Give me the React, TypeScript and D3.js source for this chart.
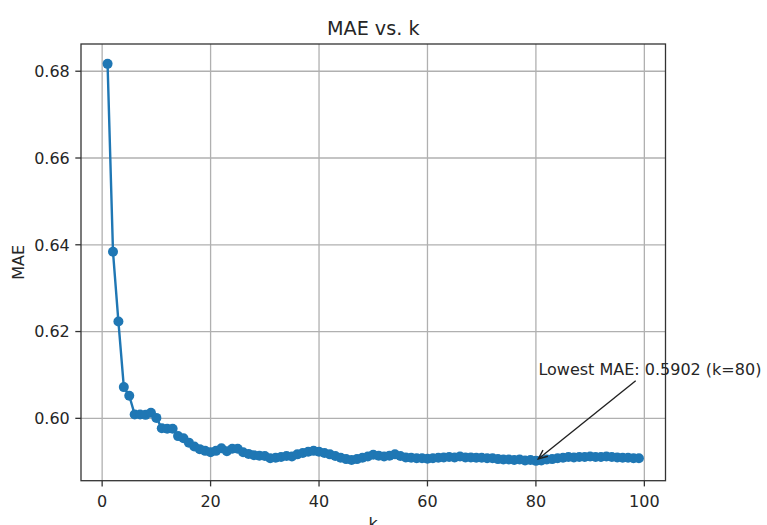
import React, { useEffect, useRef } from "react";
import * as d3 from "d3";

const kValues: number[] = Array.from({ length: 99 }, (_, i) => i + 1);
const maeValues: number[] = [
  0.6817, 0.6384, 0.6223, 0.6072, 0.6052, 0.6009, 0.6009, 0.6008, 0.6013, 0.6001,
  0.5977, 0.5976, 0.5976, 0.5959, 0.5954, 0.5944, 0.5935, 0.5929, 0.5925, 0.5922,
  0.5925, 0.5931, 0.5924, 0.5930, 0.5930, 0.5922, 0.5918, 0.5915, 0.5914, 0.5913,
  0.5908, 0.5909, 0.5911, 0.5913, 0.5912, 0.5917, 0.5920, 0.5923, 0.5925, 0.5923,
  0.5920, 0.5917, 0.5913, 0.5909, 0.5906, 0.5904, 0.5906, 0.5909, 0.5912, 0.5916,
  0.5914, 0.5912, 0.5914, 0.5917, 0.5913, 0.5910, 0.5909, 0.5908, 0.5908, 0.5907,
  0.5908, 0.5909, 0.5910, 0.5911, 0.5910, 0.5912, 0.5910, 0.5910, 0.5909, 0.5909,
  0.5908, 0.5908, 0.5906, 0.5905, 0.5905, 0.5904, 0.5905, 0.5903, 0.5904, 0.5902,
  0.5903, 0.5905, 0.5906, 0.5908, 0.5909, 0.5911, 0.5910, 0.5911, 0.5911, 0.5912,
  0.5911, 0.5911, 0.5912, 0.5911, 0.5910, 0.5909, 0.5909, 0.5908, 0.5908,
];
const xTicks: number[] = [0, 20, 40, 60, 80, 100];
const yTicks: number[] = [0.6, 0.62, 0.64, 0.66, 0.68];
const titleText = "MAE vs. k";
const xLabelText = "k";
const yLabelText = "MAE";
const annotationTextY = 0.61;

const W = 767;
const H = 525;
const LEFT = 81;
const RIGHT = 665.5;
const TOP = 44;
const BOTTOM = 480.7;
const FONT = "'DejaVu Sans', sans-serif";
const BLUE = "#1f77b4";
const INK = "#262626";

export default function App() {
  const ref = useRef<SVGSVGElement | null>(null);

  useEffect(() => {
    const svg = d3.select(ref.current);
    svg.selectAll("*").remove();

    const kMin = d3.min(kValues)!;
    const kMax = d3.max(kValues)!;
    const kPad = (kMax - kMin) * 0.05;
    const vMin = d3.min(maeValues)!;
    const vMax = d3.max(maeValues)!;
    const vPad = (vMax - vMin) * 0.05;

    const x = d3.scaleLinear().domain([kMin - kPad, kMax + kPad]).range([LEFT, RIGHT]);
    const y = d3.scaleLinear().domain([vMin - vPad, vMax + vPad]).range([BOTTOM, TOP]);

    svg.append("rect").attr("width", W).attr("height", H).attr("fill", "#fff");

    // grid
    const grid = svg.append("g");
    xTicks.forEach((t) => {
      grid.append("line")
        .attr("x1", x(t)).attr("x2", x(t)).attr("y1", TOP).attr("y2", BOTTOM)
        .attr("stroke", "#b0b0b0").attr("stroke-width", 1.3);
    });
    yTicks.forEach((t) => {
      grid.append("line")
        .attr("x1", LEFT).attr("x2", RIGHT).attr("y1", y(t)).attr("y2", y(t))
        .attr("stroke", "#b0b0b0").attr("stroke-width", 1.3);
    });

    const data = kValues.map((k, i) => ({ k, v: maeValues[i] }));
    const line = d3.line<{ k: number; v: number }>().x((d) => x(d.k)).y((d) => y(d.v));
    svg.append("path").datum(data).attr("d", line).attr("fill", "none")
      .attr("stroke", BLUE).attr("stroke-width", 2.4).attr("stroke-linejoin", "round");
    svg.append("g").selectAll("circle").data(data).join("circle")
      .attr("cx", (d) => x(d.k)).attr("cy", (d) => y(d.v)).attr("r", 5)
      .attr("fill", BLUE);

    // spines
    svg.append("rect").attr("x", LEFT).attr("y", TOP)
      .attr("width", RIGHT - LEFT).attr("height", BOTTOM - TOP)
      .attr("fill", "none").attr("stroke", "#333").attr("stroke-width", 1.3);

    // ticks
    const tl = 5.7;
    xTicks.forEach((t) => {
      svg.append("line").attr("x1", x(t)).attr("x2", x(t)).attr("y1", BOTTOM).attr("y2", BOTTOM + tl)
        .attr("stroke", "#333").attr("stroke-width", 1.3);
      svg.append("text").attr("x", x(t)).attr("y", BOTTOM + 26).attr("text-anchor", "middle")
        .attr("font-family", FONT).attr("font-size", 16).attr("fill", INK).text(String(t));
    });
    yTicks.forEach((t) => {
      svg.append("line").attr("x1", LEFT - tl).attr("x2", LEFT).attr("y1", y(t)).attr("y2", y(t))
        .attr("stroke", "#333").attr("stroke-width", 1.3);
      svg.append("text").attr("x", LEFT - tl - 5.5).attr("y", y(t)).attr("dy", "0.36em")
        .attr("text-anchor", "end").attr("font-family", FONT).attr("font-size", 16)
        .attr("fill", INK).text(t.toFixed(2));
    });

    // labels
    svg.append("text").attr("x", (LEFT + RIGHT) / 2).attr("y", 34.5).attr("text-anchor", "middle")
      .attr("font-family", FONT).attr("font-size", 19.2).attr("fill", INK).text(titleText);
    svg.append("text").attr("x", (LEFT + RIGHT) / 2).attr("y", 529).attr("text-anchor", "middle")
      .attr("font-family", FONT).attr("font-size", 16).attr("fill", INK).text(xLabelText);
    svg.append("text")
      .attr("transform", `translate(${24},${(TOP + BOTTOM) / 2}) rotate(-90)`)
      .attr("text-anchor", "middle").attr("font-family", FONT).attr("font-size", 16)
      .attr("fill", INK).text(yLabelText);

    // annotation
    const minIdx = d3.minIndex(maeValues);
    const minK = kValues[minIdx];
    const minV = maeValues[minIdx];
    const tx = x(minK) + 2.5;
    const ty = y(annotationTextY);
    const txt = svg.append("text").attr("x", tx).attr("y", ty)
      .attr("font-family", FONT).attr("font-size", 16).attr("fill", INK)
      .text(`Lowest MAE: ${minV.toFixed(4)} (k=${minK})`);
    const bb = (txt.node() as SVGTextElement).getBBox();
    const cx = bb.x + bb.width / 2;
    const cy = bb.y + bb.height / 2;
    const px = x(minK);
    const py = y(minV);
    const dx = px - cx;
    const dy = py - cy;
    const t0 = (bb.height / 2) / dy;
    const len = Math.hypot(dx, dy);
    const shrink = 3;
    const sx = cx + dx * t0 + (dx / len) * shrink;
    const sy = cy + dy * t0 + (dy / len) * shrink;
    const ex = px - (dx / len) * shrink;
    const ey = py - (dy / len) * shrink;
    svg.append("line").attr("x1", sx).attr("y1", sy).attr("x2", ex).attr("y2", ey)
      .attr("stroke", "#222").attr("stroke-width", 1.4);
    const ang = Math.atan2(dy, dx);
    const hl = 10;
    const ha = 0.4;
    const head = d3.path();
    head.moveTo(ex - hl * Math.cos(ang - ha), ey - hl * Math.sin(ang - ha));
    head.lineTo(ex, ey);
    head.lineTo(ex - hl * Math.cos(ang + ha), ey - hl * Math.sin(ang + ha));
    svg.append("path").attr("d", head.toString()).attr("fill", "none")
      .attr("stroke", "#222").attr("stroke-width", 1.4);
  }, []);

  return (
    <div style={{ position: "absolute", left: 0, top: 0 }}>
      <svg ref={ref} width={W} height={H} style={{ display: "block" }} />
    </div>
  );
}
